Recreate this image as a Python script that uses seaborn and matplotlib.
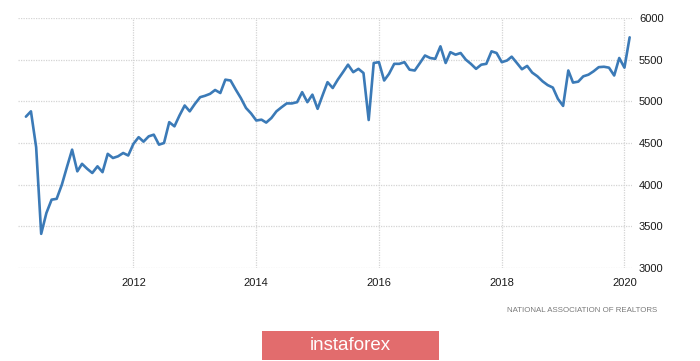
import matplotlib
matplotlib.use("Agg")
import matplotlib.pyplot as plt
import matplotlib.dates as mdates
from matplotlib.patches import Rectangle
import seaborn as sns
import pandas as pd

start_month = "2010-04-01"
end_month = "2020-02-01"

sales_2010 = [4816, 4880, 4450, 3410, 3660, 3820, 3830, 4000, 4210]
sales_2011 = [4420, 4160, 4250, 4190, 4140, 4220, 4150, 4370, 4320, 4340, 4380, 4350]
sales_2012 = [4490, 4570, 4516, 4580, 4600, 4480, 4500, 4750, 4700, 4830, 4950, 4880]
sales_2013 = [4970, 5050, 5066, 5090, 5136, 5100, 5260, 5250, 5140, 5040, 4920, 4855]
sales_2014 = [4770, 4780, 4745, 4800, 4880, 4930, 4975, 4975, 4990, 5110, 4990, 5080]
sales_2015 = [4910, 5080, 5230, 5160, 5260, 5350, 5440, 5350, 5390, 5340, 4776, 5460]
sales_2016 = [5470, 5250, 5330, 5450, 5450, 5470, 5380, 5370, 5460, 5550, 5520, 5510]
sales_2017 = [5660, 5460, 5590, 5560, 5580, 5500, 5450, 5390, 5440, 5450, 5600, 5580]
sales_2018 = [5470, 5490, 5536, 5460, 5385, 5425, 5345, 5300, 5240, 5195, 5165, 5030]
sales_2019 = [4945, 5370, 5225, 5236, 5300, 5320, 5360, 5410, 5415, 5404, 5310, 5520]
sales_2020 = [5404, 5768]

y_ticks = [3000, 3500, 4000, 4500, 5000, 5500, 6000]
x_tick_years = [2012, 2014, 2016, 2018, 2020]
source_text = "NATIONAL ASSOCIATION OF REALTORS"
logo_text = "instaforex"

values = (sales_2010 + sales_2011 + sales_2012 + sales_2013 + sales_2014 +
          sales_2015 + sales_2016 + sales_2017 + sales_2018 + sales_2019 + sales_2020)
dates = pd.date_range(start_month, end_month, freq="MS")
df = pd.DataFrame({"date": dates, "value": values})

sns.set_theme(style="white")
plt.rcParams["font.family"] = ["Liberation Sans", "DejaVu Sans"]

fig = plt.figure(figsize=(7.0, 3.61), dpi=100)
ax = fig.add_axes([18/700, 1-268/361, (632-18)/700, (268-18)/361])

sns.lineplot(data=df, x="date", y="value", ax=ax, color="#3b7ab7", linewidth=1.9,
             solid_joinstyle="round", solid_capstyle="round")

ax.set_ylim(3000, 6000)
ax.set_xlim(pd.Timestamp("2010-02-13"), pd.Timestamp("2020-02-15"))
ax.set_yticks(y_ticks)
ax.set_xticks([pd.Timestamp(f"{y}-01-01") for y in x_tick_years])
ax.xaxis.set_major_formatter(mdates.DateFormatter("%Y"))

ax.yaxis.tick_right()
ax.grid(True, linestyle=(0, (1, 1)), color="#d4d4d4", linewidth=0.9)
for s in ax.spines.values():
    s.set_visible(False)
ax.tick_params(axis="both", length=0, labelsize=8, colors="#1a1a1a")
ax.tick_params(axis="y", pad=5)
ax.tick_params(axis="x", pad=7)
ax.set_xlabel("")
ax.set_ylabel("")

fig.text(657/700, 1-311/361, source_text, ha="right", va="center",
         fontsize=5.7, color="#7a7a7a")

fig.patches.append(Rectangle((261.5/700, 1-359.5/361), (439-261.5)/700, (359.5-330.5)/361,
                             transform=fig.transFigure, facecolor="#e26c6d",
                             edgecolor="none"))
fig.text(350/700, 1-345/361, logo_text, ha="center", va="center",
         fontsize=13.5, color="white")

fig.savefig("out.png", dpi=100)
